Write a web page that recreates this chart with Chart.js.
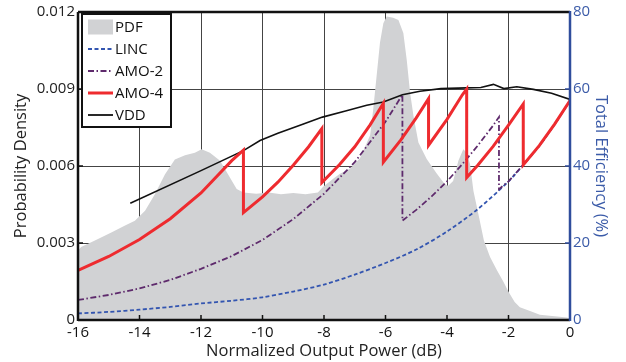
<!DOCTYPE html>
<html>
<head>
<meta charset="utf-8">
<script src="https://cdn.jsdelivr.net/npm/chart.js@4"></script>
<style>
  html, body { margin: 0; padding: 0; background: #fff; }
  #wrap { width: 626px; height: 362px; }
</style>
</head>
<body>
<div id="wrap"><canvas id="chart"></canvas></div>
<script>
// ticks
const xTicks = [-16, -14, -12, -10, -8, -6, -4, -2, 0];
const pdfTicks = [0, 0.003, 0.006, 0.009, 0.012];
const pdfTickLabels = ['0', '0.003', '0.006', '0.009', '0.012'];
const effTicks = [0, 20, 40, 60, 80];
const legendLabels = ['PDF', 'LINC', 'AMO-2', 'AMO-4', 'VDD'];

// probability density of the signal (left axis)
const pdfX = [-16, -15.9, -15.45, -14.9, -14.47, -14.15, -13.82, -13.5, -13.17, -12.85, -12.52, -12.2, -11.98,
  -11.71, -11.38, -11.06, -10.84, -10.62, -10.2, -9.8, -9.4, -9.0, -8.6, -8.2, -8.02, -7.7, -7.48, -7.15,
  -6.83, -6.5, -6.4, -6.29, -6.18, -6.07, -5.96, -5.75, -5.58, -5.42, -5.31, -5.2, -5.09, -4.93, -4.66,
  -4.34, -4.07, -3.96, -3.8, -3.63, -3.47, -3.36, -3.25, -3.14, -2.98, -2.8, -2.6, -2.38, -2.17, -2.0,
  -1.8, -1.63, -1.3, -0.98, -0.5, -0.1, 0];
const pdfY = [0.00271, 0.00284, 0.0031, 0.00342, 0.00368, 0.00387, 0.00426, 0.0049, 0.00568, 0.00625, 0.00642,
  0.00652, 0.00665, 0.00652, 0.0062, 0.00555, 0.0051, 0.00497, 0.00492, 0.00497, 0.0049, 0.00495, 0.0049,
  0.00497, 0.0052, 0.0055, 0.0057, 0.0059, 0.0063, 0.0072, 0.0082, 0.0095, 0.0108, 0.01156, 0.01182,
  0.01178, 0.01169, 0.01118, 0.01014, 0.00885, 0.00795, 0.00692, 0.00627, 0.00572, 0.00529, 0.00523,
  0.00542, 0.0062, 0.00665, 0.00652, 0.00607, 0.00503, 0.00413, 0.0031, 0.00245, 0.00195, 0.0015, 0.0011,
  0.0007, 0.0005, 0.00035, 0.0002, 0.00015, 0.0001, 0.00006];

// efficiency curves (right axis, %)
const lincX = [-16, -15, -14, -13, -12, -11, -10, -9, -8, -7, -6, -5, -4, -3, -2, -1.52, -1, -0.5, 0];
const lincEff = [1.7, 2.1, 2.7, 3.4, 4.3, 5.0, 5.9, 7.4, 9.2, 11.8, 14.8, 18.3, 23.0, 28.8, 36.0, 40.3, 45.2, 50.8, 57.0];

const amo2X = [-16, -15, -14, -13, -12, -11, -10, -9, -8, -7, -6, -5.45,
  -5.45, -5, -4.5, -4, -3.5, -3, -2.5, -2.31,
  -2.31, -2, -1.5, -1, -0.5, 0];
const amo2Eff = [5.2, 6.5, 8.2, 10.4, 13.3, 16.6, 20.8, 26.2, 32.8, 41.0, 51.5, 58.5,
  25.8, 28.6, 32.1, 36.0, 40.5, 45.3, 50.5, 52.7,
  34.0, 36.0, 40.5, 45.2, 50.8, 57.0];

const amo4X = [-16, -15, -14, -13, -12, -11, -10.62,
  -10.62, -10, -9.5, -9, -8.5, -8.07,
  -8.07, -7.5, -7, -6.5, -6.07,
  -6.07, -5.5, -5, -4.6,
  -4.6, -4, -3.5, -3.36,
  -3.36, -3, -2.5, -2, -1.52,
  -1.52, -1, -0.5, 0];
const amo4Eff = [12.9, 16.5, 20.9, 26.3, 33.0, 41.4, 44.1,
  27.9, 32.0, 35.8, 40.2, 45.0, 49.7,
  35.7, 40.3, 45.0, 50.7, 56.3,
  41.0, 46.8, 52.5, 57.5,
  45.4, 52.1, 58.5, 60.0,
  37.0, 40.2, 45.1, 50.6, 56.1,
  40.3, 45.3, 50.9, 57.0];

const vddX = [-14.3, -12.0, -10.62, -10.08, -9.5, -8.78, -8.05, -7.3, -6.61, -6.07, -5.45, -4.88, -4.2,
  -3.36, -2.9, -2.49, -2.15, -1.73, -1.19, -0.6, 0];
const vddEff = [30.3, 38.8, 44.0, 46.6, 48.5, 50.6, 52.7, 54.3, 55.8, 56.6, 58.5, 59.4, 60.1,
  60.3, 60.4, 61.2, 60.1, 60.6, 59.9, 58.9, 57.3];

function pts(xs, ys) { return xs.map((x, i) => ({ x: x, y: ys[i] })); }

const BLUE_AXIS = '#2f4d9c';
const C_PDF = '#d1d2d4', C_LINC = '#3355b0', C_AMO2 = '#5e2a6c', C_AMO4 = '#ee2b2f', C_VDD = '#111111';

const framePlugin = {
  id: 'frame',
  afterDatasetsDraw(chart) {
    const { ctx, chartArea: a, scales } = chart;
    ctx.save();
    function seg(x1, y1, x2, y2) { ctx.beginPath(); ctx.moveTo(x1, y1); ctx.lineTo(x2, y2); ctx.stroke(); }
    // inward tick marks
    ctx.lineWidth = 1.5;
    ctx.strokeStyle = '#111';
    xTicks.forEach(v => { const p = scales.x.getPixelForValue(v); seg(p, a.bottom, p, a.bottom - 5); });
    pdfTicks.forEach(v => { const p = scales.y.getPixelForValue(v); seg(a.left, p, a.left + 5, p); });
    ctx.strokeStyle = BLUE_AXIS;
    effTicks.forEach(v => { const p = scales.y1.getPixelForValue(v); seg(a.right, p, a.right - 5, p); });
    // axes frame
    ctx.lineWidth = 2.5;
    ctx.strokeStyle = '#111';
    seg(a.left, a.top, a.right, a.top);
    seg(a.left, a.top, a.left, a.bottom + 1);
    seg(a.left, a.bottom, a.right, a.bottom);
    ctx.strokeStyle = BLUE_AXIS;
    seg(a.right, a.top - 1, a.right, a.bottom + 1);
    ctx.restore();
  },
  afterDraw(chart) {
    const ctx = chart.ctx;
    const bx = 82, by = 14, bw = 89, bh = 113;
    ctx.save();
    ctx.fillStyle = '#fff';
    ctx.fillRect(bx, by, bw, bh);
    ctx.lineWidth = 2;
    ctx.strokeStyle = '#111';
    ctx.strokeRect(bx, by, bw, bh);
    const styles = [
      { fill: C_PDF },
      { color: C_LINC, width: 1.8, dash: [4, 2.5] },
      { color: C_AMO2, width: 1.8, dash: [6, 2.5, 1.5, 2.5] },
      { color: C_AMO4, width: 3, dash: [] },
      { color: C_VDD, width: 1.8, dash: [] }
    ];
    ctx.font = "15px 'Open Sans', sans-serif";
    ctx.textBaseline = 'middle';
    legendLabels.forEach((label, i) => {
      const y = 27 + i * 22;
      const s = styles[i];
      if (s.fill) {
        ctx.fillStyle = s.fill;
        ctx.fillRect(88, y - 7.5, 25, 15);
      } else {
        ctx.beginPath();
        ctx.setLineDash(s.dash);
        ctx.lineWidth = s.width;
        ctx.strokeStyle = s.color;
        ctx.moveTo(88, y);
        ctx.lineTo(113, y);
        ctx.stroke();
        ctx.setLineDash([]);
      }
      ctx.fillStyle = '#111';
      ctx.fillText(label, 115, y + 1);
    });
    ctx.restore();
  }
};

Chart.defaults.font.family = "'Open Sans', sans-serif";
Chart.defaults.font.size = 15;
Chart.defaults.color = '#222';

new Chart(document.getElementById('chart'), {
  type: 'line',
  data: {
    datasets: [
      { label: 'PDF', data: pts(pdfX, pdfY), yAxisID: 'y', fill: 'origin', backgroundColor: C_PDF,
        borderWidth: 0, pointRadius: 0, order: 5 },
      { label: 'LINC', data: pts(lincX, lincEff), yAxisID: 'y1', borderColor: C_LINC, borderWidth: 1.8,
        borderDash: [4, 2.5], pointRadius: 0, tension: 0.3, fill: false, order: 4 },
      { label: 'AMO-2', data: pts(amo2X, amo2Eff), yAxisID: 'y1', borderColor: C_AMO2, borderWidth: 1.8,
        borderDash: [6, 2.5, 1.5, 2.5], pointRadius: 0, fill: false, order: 3 },
      { label: 'VDD', data: pts(vddX, vddEff), yAxisID: 'y1', borderColor: C_VDD, borderWidth: 1.6,
        pointRadius: 0, fill: false, order: 2 },
      { label: 'AMO-4', data: pts(amo4X, amo4Eff), yAxisID: 'y1', borderColor: C_AMO4, borderWidth: 3,
        pointRadius: 0, fill: false, order: 1 }
    ]
  },
  options: {
    responsive: true,
    maintainAspectRatio: false,
    animation: false,
    layout: { padding: { top: 10, left: 0, right: 0, bottom: 0 } },
    plugins: { legend: { display: false }, tooltip: { enabled: false } },
    scales: {
      x: {
        type: 'linear', min: -16, max: 0,
        afterBuildTicks: s => { s.ticks = xTicks.map(v => ({ value: v })); },
        afterFit: s => { s.height = 42; },
        grid: { color: '#444', lineWidth: 1, drawTicks: false },
        border: { display: false },
        ticks: { padding: 4, color: '#111', maxRotation: 0, callback: v => String(v) },
        title: { display: true, text: 'Normalized Output Power (dB)', color: '#222',
          font: { size: 16.5 }, padding: { top: 0, bottom: 1 } }
      },
      y: {
        position: 'left', min: 0, max: 0.012,
        afterBuildTicks: s => { s.ticks = pdfTicks.map(v => ({ value: v })); },
        afterFit: s => { s.width = 78; },
        grid: { color: '#444', lineWidth: 1, drawTicks: false },
        border: { display: false },
        ticks: { padding: 3, color: '#222', callback: (v, i) => pdfTickLabels[i] },
        title: { display: true, text: 'Probability Density', color: '#222',
          font: { size: 16.5 }, padding: { top: 11, bottom: 0 } }
      },
      y1: {
        position: 'right', min: 0, max: 80,
        afterBuildTicks: s => { s.ticks = effTicks.map(v => ({ value: v })); },
        afterFit: s => { s.width = 56; },
        grid: { display: false, drawTicks: false },
        border: { display: false },
        ticks: { padding: 3, color: '#3b5ba8', callback: v => String(v) },
        title: { display: true, text: 'Total Efficiency (%)', color: '#3b5ba8',
          font: { size: 16.5 }, padding: { top: 15, bottom: 0 } }
      }
    }
  },
  plugins: [framePlugin]
});
</script>
</body>
</html>
